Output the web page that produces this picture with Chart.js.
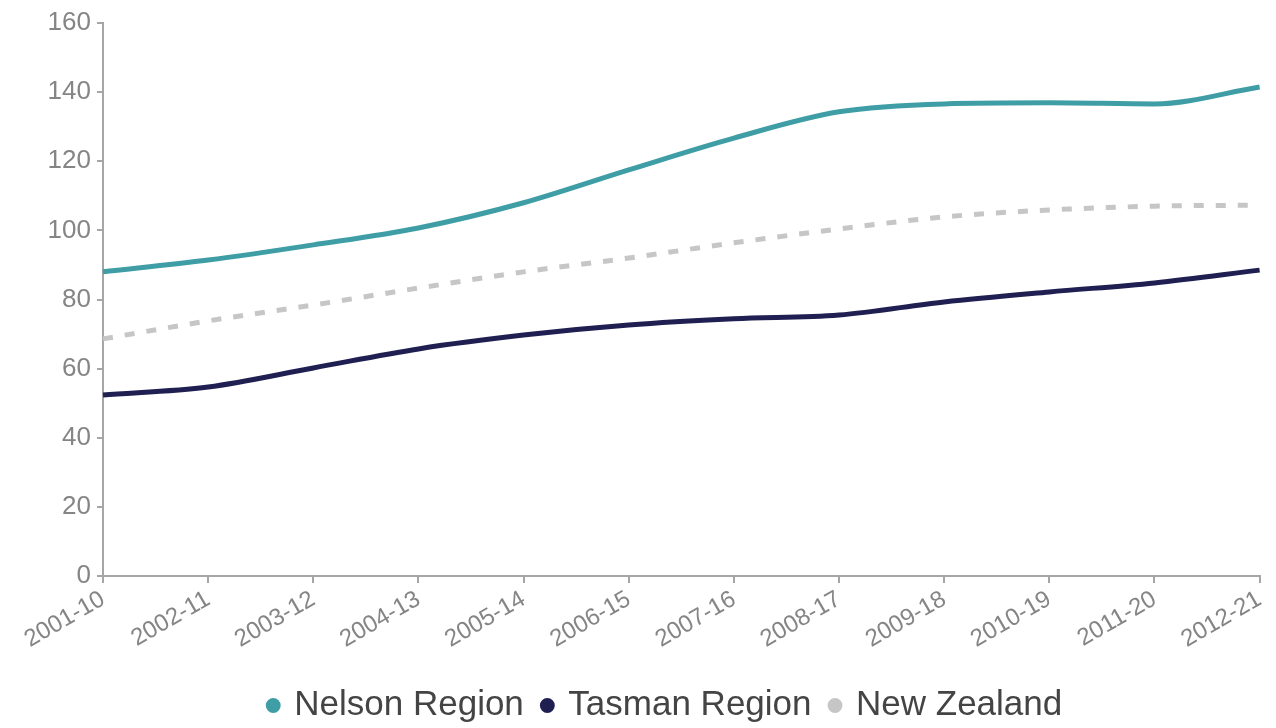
<!DOCTYPE html>
<html>
<head>
<meta charset="utf-8">
<script src="https://cdn.jsdelivr.net/npm/chart.js@4"></script>
<style>
  html, body { margin: 0; padding: 0; background: #ffffff; }
  #wrap { width: 1276px; height: 728px; position: relative; }
</style>
</head>
<body>
<div id="wrap"><canvas id="chart"></canvas></div>
<script>
// Rolling ten-year periods
const periods = ['2001-10', '2002-11', '2003-12', '2004-13', '2005-14', '2006-15',
                 '2007-16', '2008-17', '2009-18', '2010-19', '2011-20', '2012-21'];

const nelson = [88.0, 91.4, 95.8, 100.7, 108.0, 117.5, 126.7, 134.3, 136.6, 136.9, 136.6, 141.5];
const tasman = [52.4, 54.7, 60.2, 65.7, 69.7, 72.6, 74.4, 75.5, 79.3, 82.2, 84.8, 88.5];
const newZealand = [68.6, 73.8, 78.4, 83.3, 88.0, 92.0, 96.4, 100.4, 103.9, 105.9, 107.0, 107.3];

const yTicks = [0, 20, 40, 60, 80, 100, 120, 140, 160];

const FONT = '"Liberation Sans", Arial, sans-serif';
const AXIS = '#a6a6a6';
const TICK_TEXT = '#858585';

// Nudge the legend so it sits centred under the plot area rather than the canvas
const legendShift = {
  id: 'legendShift',
  afterLayout(chart) {
    const lg = chart.legend;
    if (!lg) return;
    const dx = 34;
    lg.left += dx;
    lg.right += dx;
  }
};

new Chart(document.getElementById('chart'), {
  type: 'line',
  data: {
    labels: periods,
    datasets: [
      { label: 'Nelson Region', data: nelson, borderColor: '#3f9ea5', backgroundColor: '#3f9ea5',
        borderWidth: 5 },
      { label: 'Tasman Region', data: tasman, borderColor: '#1f1f52', backgroundColor: '#1f1f52',
        borderWidth: 5 },
      { label: 'New Zealand', data: newZealand, borderColor: '#c6c6c6', backgroundColor: '#c6c6c6',
        borderWidth: 5, borderDash: [10, 12] }
    ]
  },
  plugins: [legendShift],
  options: {
    responsive: true,
    maintainAspectRatio: false,
    animation: false,
    layout: { padding: { top: 23, right: 12, left: 0, bottom: -5 } },
    elements: {
      point: { radius: 0, hoverRadius: 0 },
      line: { cubicInterpolationMode: 'monotone', fill: false, borderCapStyle: 'butt' }
    },
    plugins: {
      tooltip: { enabled: false },
      legend: {
        position: 'bottom',
        labels: {
          usePointStyle: true,
          pointStyle: 'circle',
          boxWidth: 7,
          boxHeight: 7,
          padding: 20,
          color: '#444444',
          font: { family: FONT, size: 35 }
        }
      }
    },
    scales: {
      x: {
        type: 'category',
        offset: false,
        afterFit: (s) => { s.height = 92; },
        border: { display: true, color: AXIS, width: 2 },
        grid: { display: true, drawOnChartArea: false, drawTicks: true, tickLength: 7, color: AXIS, lineWidth: 2 },
        ticks: {
          autoSkip: false,
          minRotation: 30,
          maxRotation: 30,
          padding: 2,
          color: TICK_TEXT,
          font: { family: FONT, size: 24 }
        }
      },
      y: {
        min: 0,
        max: 160,
        afterFit: (s) => { s.width = 103; },
        afterBuildTicks: (s) => { s.ticks = yTicks.map(v => ({ value: v })); },
        border: { display: true, color: AXIS, width: 2 },
        grid: { display: true, drawOnChartArea: false, drawTicks: true, tickLength: 6, color: AXIS, lineWidth: 2 },
        ticks: {
          padding: 6,
          color: TICK_TEXT,
          font: { family: FONT, size: 26 }
        }
      }
    }
  }
});
</script>
</body>
</html>
